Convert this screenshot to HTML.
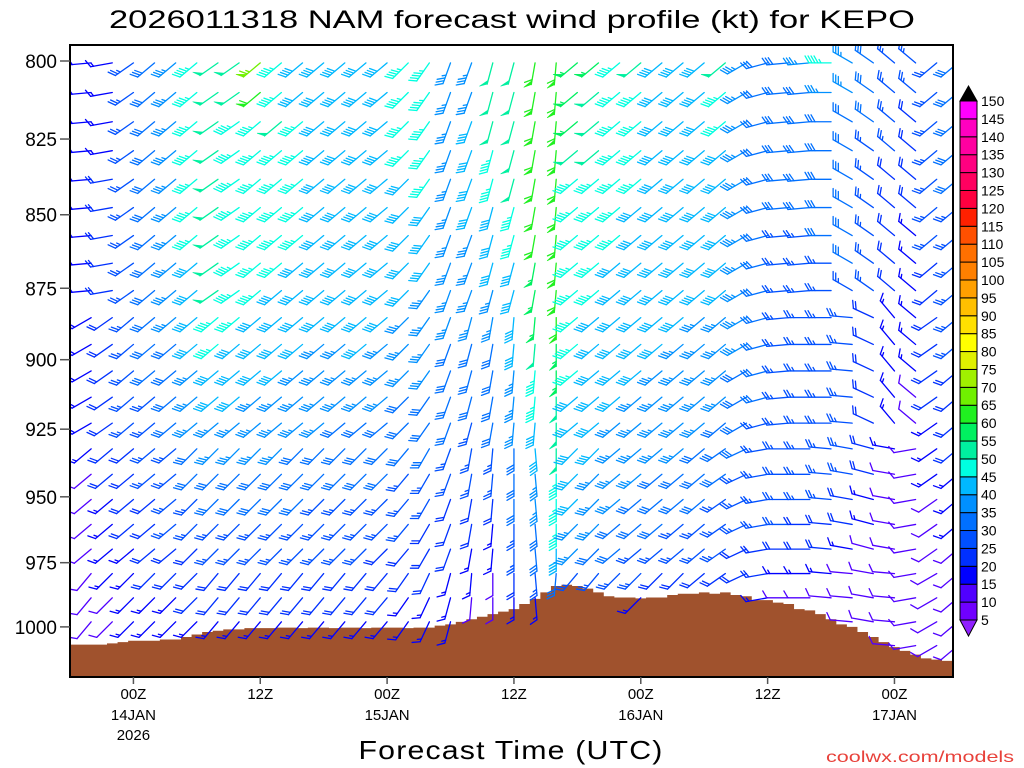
<!DOCTYPE html>
<html><head><meta charset="utf-8"><style>
html,body{margin:0;padding:0;background:#fff;}
svg{display:block;font-family:"Liberation Sans",sans-serif;}
</style></head><body>
<svg id="chart" width="1024" height="768" viewBox="0 0 1024 768" xmlns="http://www.w3.org/2000/svg">
<rect width="1024" height="768" fill="#fff"/>
<text x="512" y="28" text-anchor="middle" font-size="25" textLength="806" lengthAdjust="spacingAndGlyphs">2026011318 NAM forecast wind profile (kt) for KEPO</text>
<defs><clipPath id="plotclip"><rect x="70" y="45" width="883" height="632"/></clipPath></defs>
<g id="terrain" clip-path="url(#plotclip)"></g>
<g id="barbs" clip-path="url(#plotclip)"></g>
<rect x="70" y="45" width="883" height="632" fill="none" stroke="#000" stroke-width="2"/>
<g id="yaxis"></g>
<g id="xaxis"></g>
<g id="colorbar"></g>
<text x="511" y="759" text-anchor="middle" font-size="26" textLength="305" lengthAdjust="spacingAndGlyphs" letter-spacing="1">Forecast Time (UTC)</text>
<text x="1014" y="762" text-anchor="end" font-size="16" fill="#e8413a" textLength="188" lengthAdjust="spacingAndGlyphs">coolwx.com/models</text>
</svg>
<script>
// ---- data ----
const yTickLevels=[800,825,850,875,900,925,950,975,1000];
const xTickHours=[6,18,30,42,54,66,78];
const xTickTime=["00Z","12Z","00Z","12Z","00Z","12Z","00Z"];
const xTickDate=["14JAN","","15JAN","","16JAN","","17JAN"];
const xTickYear=["2026","","","","","",""];
const colHours=[0,2,4,6,8,10,12,14,16,18,20,22,24,26,28,30,32,34,36,38,40,42,44,46,48,50,52,54,56,58,60,62,64,66,68,70,72,74,76,78,80,82,84];
const rowLevels=[800.6,810,819.4,828.8,838.2,847.6,857,866.4,875.8,885.2,894.6,904,913.4,922.8,932.2,941.6,951,960.4,969.8,979.2,988.6,998,1007.4];
const surfacePressure=[1007,1007,1007,1007,1006.5,1006,1005.5,1005.5,1005.5,1005,1005,1004,1003,1002,1001.5,1001,1001,1000.5,1000.5,1000.5,1000.3,1000.3,1000.5,1000.3,1000.3,1000.5,1000.3,1000.3,1000.5,1000.3,1000.3,1000.3,1000.5,1000.3,1000.3,999.5,999,998,997,996,995,994,993,991,989,986.5,984,983.5,984,985,986.5,988,988.5,988.5,988.8,988.5,988.5,987.5,987,987,986.5,987,986.5,987.5,988,989.5,989.5,990.5,991,993,993.5,995,997,999,1000,1002,1004,1006,1008,1009.5,1011,1012.5,1013,1013.5,1014];
const speedRows=[
[15,15,15,25,30,35,45,50,50,65,45,40,40,40,40,40,45,45,35,35,50,50,60,60,55,55,45,50,40,40,40,50,35,30,30,35,45,35,30,25,25,25,30],
[15,15,15,25,30,35,45,50,50,60,45,40,40,40,40,40,45,45,35,35,50,50,60,60,55,50,45,45,40,40,40,45,35,30,30,30,35,35,30,25,25,25,30],
[15,15,15,25,30,35,45,50,45,45,50,45,40,40,40,40,45,45,35,40,50,50,60,60,55,50,45,45,40,40,40,45,35,30,30,30,30,30,30,25,20,25,30],
[15,15,15,25,30,35,45,50,45,45,45,45,40,40,40,40,45,45,35,40,45,50,60,60,50,50,45,45,40,40,40,40,35,30,30,30,30,30,25,25,20,25,30],
[15,15,20,25,30,35,45,50,45,45,45,45,40,40,40,40,40,45,35,40,45,50,60,60,45,45,45,45,40,40,40,40,35,30,30,30,30,30,25,20,20,25,30],
[15,15,20,25,30,35,45,50,45,45,45,45,40,40,40,40,40,40,35,40,40,45,60,60,45,45,45,40,40,40,40,40,35,30,30,30,30,30,25,20,20,25,25],
[15,15,20,25,30,35,45,50,45,45,45,45,40,40,40,40,40,40,35,35,40,45,60,60,45,45,45,40,40,40,40,40,35,30,25,25,30,30,25,20,15,25,25],
[15,15,20,25,30,35,40,50,45,45,45,40,40,40,40,40,40,40,35,35,40,40,55,60,45,45,40,40,40,40,40,40,35,30,25,25,25,30,25,20,15,20,25],
[15,15,20,25,30,35,40,50,45,45,40,40,40,40,40,40,40,35,35,35,35,40,55,60,45,45,40,40,40,40,40,40,35,30,25,25,25,25,25,20,15,20,25],
[10,15,20,25,30,35,40,45,45,40,40,40,40,40,40,40,35,35,35,35,35,40,55,60,45,40,40,40,40,40,35,35,35,30,25,25,25,25,20,15,15,20,25],
[10,15,20,25,30,30,40,45,40,40,40,40,35,35,40,35,35,35,30,30,30,40,50,55,45,40,40,40,40,35,35,35,35,30,25,25,25,25,20,15,15,20,25],
[10,15,20,25,30,30,35,40,40,40,40,35,35,35,35,35,35,35,30,30,30,35,45,55,45,40,40,40,35,35,35,35,30,30,25,25,25,25,20,15,15,20,20],
[10,15,20,25,25,30,35,40,40,35,35,35,35,35,35,35,30,30,30,30,30,35,45,50,40,40,40,35,35,35,35,35,30,30,25,25,25,25,20,15,10,20,20],
[10,15,20,25,25,30,35,35,35,35,35,35,35,30,30,30,30,30,30,25,30,35,40,50,40,40,35,35,35,35,35,30,30,25,25,25,25,25,20,15,10,15,20],
[10,15,20,20,25,25,30,35,35,35,35,30,30,30,30,30,30,30,25,25,25,30,40,50,40,40,35,35,35,35,30,30,30,25,25,25,25,25,20,15,10,15,20],
[10,10,20,20,25,25,30,30,30,30,30,30,30,30,30,30,25,25,25,25,25,30,35,45,40,35,35,35,30,30,30,30,25,25,25,25,25,25,20,10,10,15,15],
[10,10,15,20,20,25,25,30,30,30,30,30,25,25,25,25,25,25,20,20,20,30,35,45,40,35,35,30,30,30,30,25,25,25,25,25,25,20,15,10,10,10,15],
[10,10,15,20,20,25,25,25,25,25,25,25,25,25,25,25,25,20,20,20,15,25,30,45,35,35,30,30,30,25,25,25,25,25,25,20,20,20,15,10,10,10,15],
[10,10,15,15,20,20,20,25,25,25,25,25,25,25,25,20,20,20,20,15,15,25,30,40,35,30,30,25,25,25,25,25,20,20,20,20,20,15,10,10,10,10,10],
[10,10,15,15,20,20,20,20,20,20,20,20,20,20,20,20,20,20,15,15,10,20,25,30,25,25,25,25,20,20,20,20,20,20,15,15,15,10,10,10,10,10,10],
[10,10,10,15,15,15,20,20,20,20,20,20,20,20,20,20,15,15,15,10,10,15,15,20,15,15,15,15,15,15,15,15,15,15,10,10,10,10,10,10,10,10,10],
[10,10,10,15,15,15,15,15,15,15,15,15,15,15,15,15,15,15,15,10,10,10,10,10,10,10,10,10,10,10,10,10,10,10,10,10,10,10,10,10,10,10,10],
[10,10,10,10,10,10,10,10,10,10,10,10,10,10,10,10,10,10,10,10,10,10,10,10,10,10,10,10,10,10,10,10,10,10,10,10,10,10,10,10,10,10,10]];
const dirUpper=[270,265,260,235,230,230,230,235,235,230,230,230,230,230,230,230,225,215,200,200,195,195,190,185,230,230,230,230,230,230,230,230,240,255,265,265,270,300,305,310,310,230,230];
const dirMid=[240,240,235,230,230,230,230,230,230,230,230,230,230,230,230,230,225,215,200,195,190,185,185,180,230,230,230,230,230,230,230,230,240,255,265,270,270,275,295,320,310,235,230];
const dirLow=[225,230,230,230,230,230,225,225,225,225,225,225,225,225,225,225,220,210,200,190,185,180,175,180,225,225,230,230,230,230,230,235,245,260,270,270,275,280,285,280,260,235,230];
const dirSfc=[220,220,225,225,225,225,225,220,220,220,220,220,220,220,220,220,215,205,195,185,180,180,175,185,220,220,225,225,225,225,230,235,245,260,270,270,275,275,280,275,260,240,230];
const rowDirBand=[dirUpper,dirUpper,dirUpper,dirUpper,dirUpper,dirUpper,dirUpper,dirUpper,dirUpper,dirMid,dirMid,dirMid,dirMid,dirMid,dirLow,dirLow,dirLow,dirLow,dirLow,dirSfc,dirSfc,dirSfc,dirSfc];
const cbLevels=[5,10,15,20,25,30,35,40,45,50,55,60,65,70,75,80,85,90,95,100,105,110,115,120,125,130,135,140,145,150];
const cbColors=["#7000ff","#5000ff","#0000ff","#0030ff","#0050ff","#0070ff","#0090ff","#00b8ff","#00ffe0","#00f0a0","#00f060","#20f020","#70f000","#a0f000","#e0f000","#ffff00","#ffe000","#ffc000","#ffa000","#ff8000","#ff7000","#ff5000","#ff2000","#ff0040","#ff0060","#ff0080","#ff00a0","#ff00c0","#ff00ff"];
const cbUnder="#9020ff", cbOver="#000";

// ---- scales ----
const NS="http://www.w3.org/2000/svg";
function yScale(p){return 61+2536*Math.log(p/800);}
function xScale(h){return 70+10.57*h;}
function colorFor(s){if(s<5)return cbUnder;for(let i=cbLevels.length-1;i>=0;i--){if(s>=cbLevels[i])return i<cbColors.length?cbColors[i]:cbOver;}return cbUnder;}
function mk(tag,attrs,parent){const e=document.createElementNS(NS,tag);for(const k in attrs)e.setAttribute(k,attrs[k]);parent.appendChild(e);return e;}

// ---- terrain ----
const terr=document.getElementById('terrain');
let d="M "+xScale(-0.5)+" 677";
surfacePressure.forEach((p,h)=>{const y=yScale(p);d+=" L "+xScale(h-0.5)+" "+y+" L "+xScale(h+0.5)+" "+y;});
d+=" L "+xScale(84.5)+" 677 Z";
const tp=mk('path',{d:d,fill:'#a0522d'},terr);



// ---- barbs ----
const bg=document.getElementById('barbs');
function drawBarb(x,y,dir,spd){
  const r=dir*Math.PI/180;const ux=Math.sin(r),uy=-Math.cos(r);
  const px=-uy,py=ux;const fx=0.5*ux+0.866*px,fy=0.5*uy+0.866*py;
  const L=22,col=colorFor(spd);
  const g=mk('g',{stroke:col,fill:col,'stroke-width':1.3,'stroke-linecap':'round'},bg);
  
  
  mk('line',{x1:x,y1:y,x2:x+L*ux,y2:y+L*uy},g);
  let s=Math.round(spd/5)*5,pos=L;
  while(s>=50){const a=pos,b=pos-4;
    mk('polygon',{points:`${x+a*ux},${y+a*uy} ${x+b*ux},${y+b*uy} ${x+a*ux+8*fx},${y+a*uy+8*fy}`,'stroke-width':0.6},g);
    pos-=5;s-=50;}
  while(s>=10){mk('line',{x1:x+pos*ux,y1:y+pos*uy,x2:x+pos*ux+8*fx,y2:y+pos*uy+8*fy},g);pos-=3;s-=10;}
  if(s>=5){if(pos===L)pos-=3;mk('line',{x1:x+pos*ux,y1:y+pos*uy,x2:x+pos*ux+4*fx,y2:y+pos*uy+4*fy},g);}
}
rowLevels.forEach((p,k)=>{colHours.forEach((h,j)=>{
  if(p>=surfacePressure[h])return;
  drawBarb(xScale(h),yScale(p),rowDirBand[k][j],speedRows[k][j]);});});

// ---- y axis ----
const ya=document.getElementById('yaxis');
yTickLevels.forEach(p=>{const y=yScale(p);
  const t=mk('line',{x1:60,y1:y,x2:70,y2:y,stroke:'#555','stroke-width':1.5},ya);
  
  
  const tx=mk('text',{x:57,y:y+7,'text-anchor':'end','font-size':19},ya);tx.textContent=p;
  
  });

// ---- x axis ----
const xa=document.getElementById('xaxis');
xTickHours.forEach((h,i)=>{const x=xScale(h);
  const t=mk('line',{x1:x,y1:677,x2:x,y2:684,stroke:'#555','stroke-width':1.5},xa);
  
  
  [[xTickTime[i],699],[xTickDate[i],720],[xTickYear[i],740]].forEach(([s,y])=>{if(!s)return;
    const tx=mk('text',{x:x,y:y,'text-anchor':'middle','font-size':15},xa);tx.textContent=s;
    
    });});

// ---- colorbar ----
const cb=document.getElementById('colorbar');
const cbTop=101,cbBot=620,step=(cbBot-cbTop)/cbColors.length;
cbColors.forEach((c,i)=>{const y1=cbBot-(i+1)*step;
  const r=mk('rect',{x:960,y:y1,width:17,height:step,fill:c,stroke:'#000','stroke-width':1},cb);
  
  });
const tu=mk('polygon',{points:`960,${cbTop} 977,${cbTop} 968.5,${cbTop-15}`,fill:cbOver,stroke:'#000'},cb);


const tb=mk('polygon',{points:`960,${cbBot} 977,${cbBot} 968.5,${cbBot+16}`,fill:cbUnder,stroke:'#000'},cb);


cbLevels.forEach((v,i)=>{const y=cbBot-i*step;
  const tx=mk('text',{x:981,y:y+5,'font-size':14},cb);tx.textContent=v;
  
  });
</script>
</body></html>
